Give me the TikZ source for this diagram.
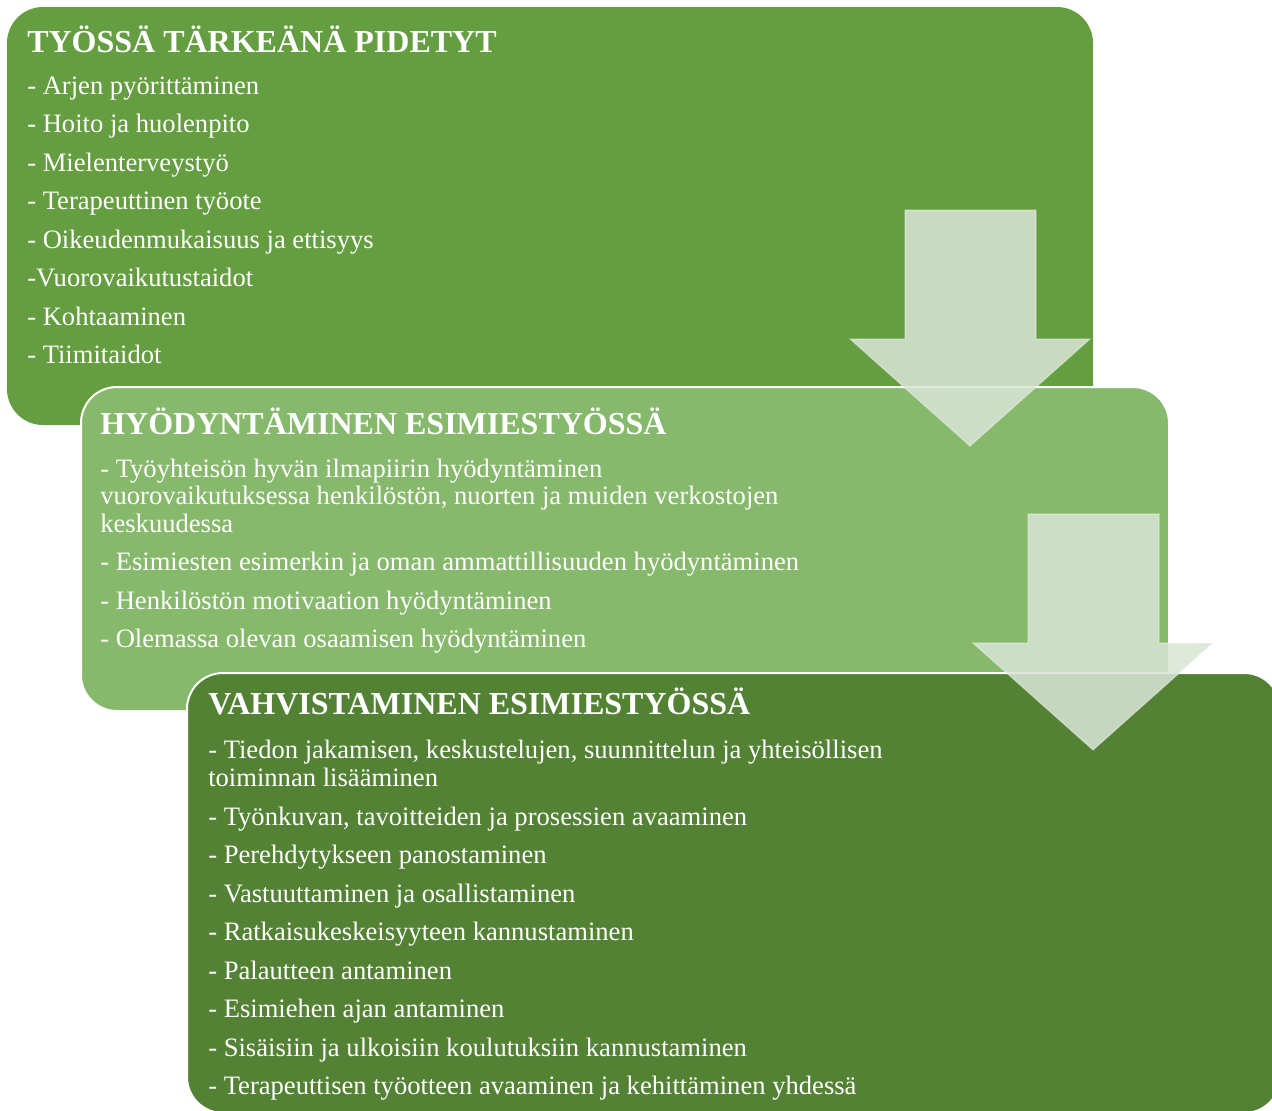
\documentclass[tikz,border=0pt]{standalone}
\usepackage{fontspec}
\setmainfont{Liberation Serif}
\usetikzlibrary{positioning}

\definecolor{midgreen}{HTML}{659D41}
\definecolor{lightgreen}{HTML}{87B96C}
\definecolor{darkgreen}{HTML}{548235}
\definecolor{arrowfill}{HTML}{D9E5D6}

\tikzset{
	box/.style={rounded corners=27pt, anchor=north west, inner sep=0pt, outer sep=0pt},
	heading/.style={anchor=base west, inner sep=0pt, text=white, font=\fontsize{24}{28}\selectfont\bfseries},
	item/.style={anchor=base west, inner sep=0pt, text=white, font=\fontsize{19.95}{23}\selectfont},
	downarrow/.style={fill=arrowfill, fill opacity=0.86, draw=white, draw opacity=0.35, line width=1pt, line join=miter},
}

\begin{document}
\begin{tikzpicture}[x=0.75pt, y=-0.75pt]
	\useasboundingbox (0,0) rectangle (1272,1111);

	% the three stacked boxes
	\node[box, fill=midgreen, minimum width=814.5pt, minimum height=313.5pt] (pidetyt) at (7,7) {};
	\node[box, fill=lightgreen, draw=white, line width=1.5pt, minimum width=816pt, minimum height=243pt] (hyodyntaminen) at (81,387) {};
	\node[box, fill=darkgreen, draw=white, line width=1.5pt, minimum width=820pt, minimum height=330pt] (vahvistaminen) at (187,673) {};

	% first box
	\node[heading] (pidetyt-title) at (27,52) {TYÖSSÄ TÄRKEÄNÄ PIDETYT};
	\foreach \txt [count=\i from 0] in {- Arjen pyörittäminen, - Hoito ja huolenpito, - Mielenterveystyö,
		- Terapeuttinen työote, - Oikeudenmukaisuus ja ettisyys, -Vuorovaikutustaidot, - Kohtaaminen, - Tiimitaidot}
		\node[item] (pidetyt-\i) at (27,94+38.5*\i) {\txt};

	% second box
	\node[heading] (hyod-title) at (100,434) {HYÖDYNTÄMINEN ESIMIESTYÖSSÄ};
	\foreach \y/\txt [count=\i] in {477/{- Työyhteisön hyvän ilmapiirin hyödyntäminen},
		504/{vuorovaikutuksessa henkilöstön, nuorten ja muiden verkostojen},
		532/{keskuudessa},
		570/{- Esimiesten esimerkin ja oman ammattillisuuden hyödyntäminen},
		609/{- Henkilöstön motivaation hyödyntäminen},
		647/{- Olemassa olevan osaamisen hyödyntäminen}}
		\node[item] (hyod-\i) at (100,\y) {\txt};

	% third box
	\node[heading] (vahv-title) at (208,714) {VAHVISTAMINEN ESIMIESTYÖSSÄ};
	\foreach \y/\txt [count=\i] in {758/{- Tiedon jakamisen, keskustelujen, suunnittelun ja yhteisöllisen},
		786/{toiminnan lisääminen},
		825/{- Työnkuvan, tavoitteiden ja prosessien avaaminen},
		863/{- Perehdytykseen panostaminen},
		902/{- Vastuuttaminen ja osallistaminen},
		940/{- Ratkaisukeskeisyyteen kannustaminen},
		979/{- Palautteen antaminen},
		1017/{- Esimiehen ajan antaminen},
		1056/{- Sisäisiin ja ulkoisiin koulutuksiin kannustaminen},
		1094/{- Terapeuttisen työotteen avaaminen ja kehittäminen yhdessä}}
		\node[item] (vahv-\i) at (208,\y) {\txt};

	% block arrows between the boxes
	\foreach \ax/\ay in {905/210, 1028/514}
		\draw[downarrow] (\ax,\ay) -- ++(131,0) -- ++(0,129) -- ++(54,0) -- ++(-120,107)
			-- ++(-120,-107) -- ++(55,0) -- cycle;
\end{tikzpicture}
\end{document}
